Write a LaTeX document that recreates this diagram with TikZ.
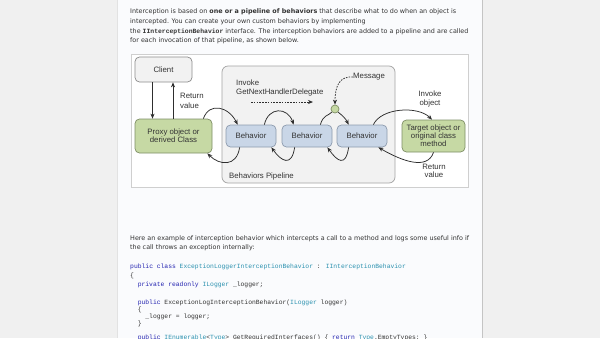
\documentclass[tikz,border=0pt]{standalone}
\usepackage{fontspec}
\setmainfont{DejaVu Sans}
\newfontfamily\diafont{Liberation Sans}
\newfontfamily\codefont{Liberation Mono}
\usetikzlibrary{arrows.meta}
\definecolor{pagegray}{HTML}{F0F0F0}
\definecolor{contentbg}{HTML}{FAFBFD}
\definecolor{sepc}{HTML}{C4C4C4}
\definecolor{txt}{HTML}{333333}
\definecolor{framec}{HTML}{CFCFCF}
\definecolor{boxgray}{HTML}{F2F2F2}
\definecolor{boxgrayb}{HTML}{8C8C8C}
\definecolor{greenf}{HTML}{C6D9A4}
\definecolor{greenb}{HTML}{7F8F66}
\definecolor{bluef}{HTML}{C9D6E7}
\definecolor{blueb}{HTML}{8D9BAE}
\definecolor{arrowc}{HTML}{2E2E2E}
\definecolor{kw}{HTML}{2323B0}
\definecolor{ty}{HTML}{2B91AF}
\tikzset{
  bodytext/.style={anchor=west,inner sep=0pt,text=txt,font=\fontsize{6.4}{7.5}\selectfont},
  codetext/.style={anchor=west,inner sep=0pt,text=txt,font=\codefont\fontsize{6.35}{7}\selectfont},
  lbl/.style={inner sep=0pt,text=txt,font=\diafont\fontsize{7.8}{8.2}\selectfont,align=center},
  lbll/.style={inner sep=0pt,text=txt,font=\diafont\fontsize{7.8}{9.5}\selectfont,align=left,anchor=west},
  rbox/.style={rounded corners=4.5pt,inner sep=0pt,align=center,text=txt,font=\diafont\fontsize{7.8}{8.2}\selectfont,line width=0.7pt},
  graybox/.style={rbox,draw=boxgrayb,fill=boxgray},
  greenbox/.style={rbox,draw=greenb,fill=greenf},
  bluebox/.style={rbox,draw=blueb,fill=bluef,minimum width=50pt,minimum height=22pt},
  conn/.style={draw=arrowc,line width=0.75pt,-{Stealth[length=5pt,width=4pt]}},
  plainc/.style={draw=arrowc,line width=0.75pt},
  dconn/.style={draw=arrowc,line width=0.75pt,dash pattern=on 1.6pt off 1.2pt,-{Stealth[length=5pt,width=4pt]}},
}
\begin{document}
\begin{tikzpicture}[x=1pt,y=-1pt]
\useasboundingbox (0,0) rectangle (600,338);
\clip (0,0) rectangle (600,338);
\fill[pagegray] (0,0) rectangle (600,338);
\fill[contentbg] (117,0) rectangle (482,338);
\draw[sepc,line width=0.8pt] (482,0) -- (482,338);
\draw[framec!60,line width=0.5pt] (117,0) -- (117,338);

% intro text
\node[bodytext] (t1) at (130,12) {Interception is based on \textbf{one or a pipeline of behaviors} that describe what to do when an object is};
\node[bodytext] (t2) at (130,21.7) {intercepted. You can create your own custom behaviors by implementing};
\node[bodytext] (t3) at (130,31.3) {the {\codefont\bfseries IInterceptionBehavior} interface. The interception behaviors are added to a pipeline and are called};
\node[bodytext] (t4) at (130,41) {for each invocation of that pipeline, as shown below.};

% diagram frame
\draw[framec,fill=white,line width=0.7pt] (131,54) rectangle (468,187);
\draw[boxgrayb!80,fill=boxgray,line width=0.7pt,rounded corners=6pt] (222,66) rectangle (395,183);
\node[lbll] (pipelbl) at (229,176) {Behaviors Pipeline};

\node[graybox,minimum width=57pt,minimum height=25pt] (client) at (163.5,69.5) {Client};
\node[greenbox,minimum width=77pt,minimum height=34pt] (proxy) at (173.5,136) {Proxy object or\\derived Class};
\node[bluebox] (b1) at (251,136) {Behavior};
\node[bluebox] (b2) at (307,136) {Behavior};
\node[bluebox] (b3) at (362,136) {Behavior};
\node[greenbox,minimum width=63pt,minimum height=32pt] (target) at (433.5,136) {Target object or\\original class\\method};
\node[circle,draw=greenb,fill=greenf,line width=0.7pt,minimum size=8pt,inner sep=0pt] (circ) at (335,109) {};

% labels
\node[lbll] (rv1) at (180,101) {Return\\value};
\node[lbll] (inv) at (236,88) {Invoke\\GetNextHandlerDelegate};
\node[lbll] (msg) at (353,77) {Message};
\node[lbl] (invobj) at (430,99) {Invoke\\object};
\node[lbl] (rv2) at (434,171) {Return\\value};

% client <-> proxy
\draw[conn] ([xshift=-11pt]client.south) -- ([xshift=-11pt]client.south |- proxy.north);
\draw[conn] ([xshift=9.5pt]client.south |- proxy.north) -- ([xshift=9.5pt]client.south);

% dashed arrows
\coordinate (da) at (251,102);
\coordinate (db) at (313,102);
\draw[dconn] (da) -- (db);
\draw[dconn] (msg.west) .. controls (340,76) and (335,85) .. (circ.north);

% top arcs
\draw[conn] ([xshift=-9pt]proxy.north east) .. controls +(6,-17) and +(-9,-18) .. ([xshift=12pt]b1.north west);
\draw[conn] ([xshift=-12pt]b1.north east) .. controls +(4,-18) and +(-6,-18) .. ([xshift=12pt]b2.north west);
\draw[plainc] ([xshift=-12pt]b2.north east) .. controls +(3,-10) and +(-4,4) .. (circ.south west);
\draw[conn] (circ.south east) .. controls +(5,4) and +(-3,-6) .. ([xshift=12pt]b3.north west);
\draw[conn] ([xshift=-14pt]b3.north east) .. controls +(8,-17) and +(-14,-14) .. ([xshift=-1.5pt]target.north);

% bottom arcs
\draw[conn] ([xshift=14pt]b1.south west) .. controls +(-3,20) and +(12,12) .. ([xshift=-5pt]proxy.south east);
\draw[conn] ([xshift=13pt]b2.south west) .. controls +(-3,20) and +(10,14) .. ([xshift=-5pt]b1.south east);
\draw[conn] ([xshift=12pt]b3.south west) .. controls +(-3,20) and +(10,14) .. ([xshift=-5pt]b2.south east);
\draw[conn] (target.south) .. controls +(-6,18) and +(24,14) .. ([xshift=-9pt]b3.south east);

% lower text
\node[bodytext] (t5) at (130,238.5) {Here an example of interception behavior which intercepts a call to a method and logs some useful info if};
\node[bodytext] (t6) at (130,248) {the call throws an exception internally:};

% code
\node[codetext] (c1) at (130,267) {\textcolor{kw}{public class} \textcolor{ty}{ExceptionLoggerInterceptionBehavior} : \textcolor{ty}{IInterceptionBehavior}};
\node[codetext] (c2) at (130,276) {\{};
\node[codetext] (c3) at (137.6,285) {\textcolor{kw}{private readonly} \textcolor{ty}{ILogger} \_logger;};
\node[codetext] (c4) at (137.6,303) {\textcolor{kw}{public} ExceptionLogInterceptionBehavior(\textcolor{ty}{ILogger} logger)};
\node[codetext] (c5) at (137.6,310) {\{};
\node[codetext] (c6) at (145.2,317) {\_logger = logger;};
\node[codetext] (c7) at (137.6,324) {\}};
\node[codetext] (c8) at (137.6,338) {\textcolor{kw}{public} \textcolor{ty}{IEnumerable}<\textcolor{ty}{Type}> GetRequiredInterfaces() \{ \textcolor{kw}{return} \textcolor{ty}{Type}.EmptyTypes; \}};
\end{tikzpicture}
\end{document}
